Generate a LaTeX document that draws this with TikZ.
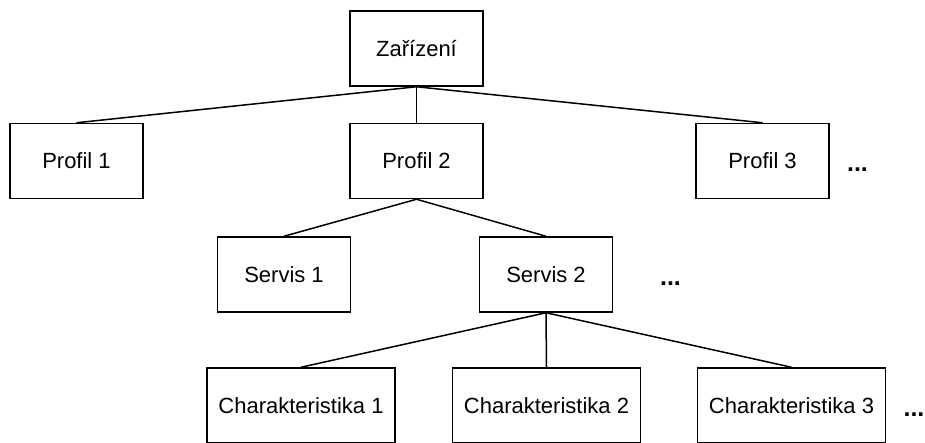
\documentclass[tikz,border=0pt]{standalone}
\usepackage{fontspec}
\setmainfont{Liberation Sans}
\begin{document}
\begin{tikzpicture}[x=1pt,y=-1pt,
    box/.style={draw=black, line width=1.5pt, inner sep=0pt,
      minimum height=75pt, font=\fontsize{22}{24}\selectfont},
    narrow/.style={box, minimum width=133pt},
    wide/.style={box, minimum width=188pt},
    more/.style={inner sep=0pt, font=\fontsize{25}{26}\selectfont\bfseries},
    link/.style={line width=1.5pt}]
  \useasboundingbox (0,0) rectangle (925,442);

  % root
  \node[narrow] (zar) at (416.5,48.5) {Zařízení};

  % profiles
  \node[narrow] (p1) at (76.5,161) {Profil 1};
  \node[narrow] (p2) at (416.5,161) {Profil 2};
  \node[narrow] (p3) at (762.5,161) {Profil 3};
  \node[more] (pmore) at (857.5,170) {...};

  % services
  \node[narrow] (s1) at (284,274.5) {Servis 1};
  \node[narrow] (s2) at (546,274.5) {Servis 2};
  \node[more] (smore) at (670.5,284) {...};

  % characteristics
  \node[wide] (c1) at (301,405.5) {Charakteristika 1};
  \node[wide] (c2) at (546.5,405.5) {Charakteristika 2};
  \node[wide] (c3) at (791.5,405.5) {Charakteristika 3};
  \node[more] (cmore) at (914,414.5) {...};

  % tree links
  \draw[link] (zar.south) -- (p1.north);
  \draw[link] (zar.south) -- (p2.north);
  \draw[link] (zar.south) -- (p3.north);
  \draw[link] (p2.south) -- (s1.north);
  \draw[link] (p2.south) -- (s2.north);
  \draw[link] (s2.south) -- (c1.north);
  \draw[link] (s2.south) -- (c2.north);
  \draw[link] (s2.south) -- (c3.north);
\end{tikzpicture}
\end{document}
